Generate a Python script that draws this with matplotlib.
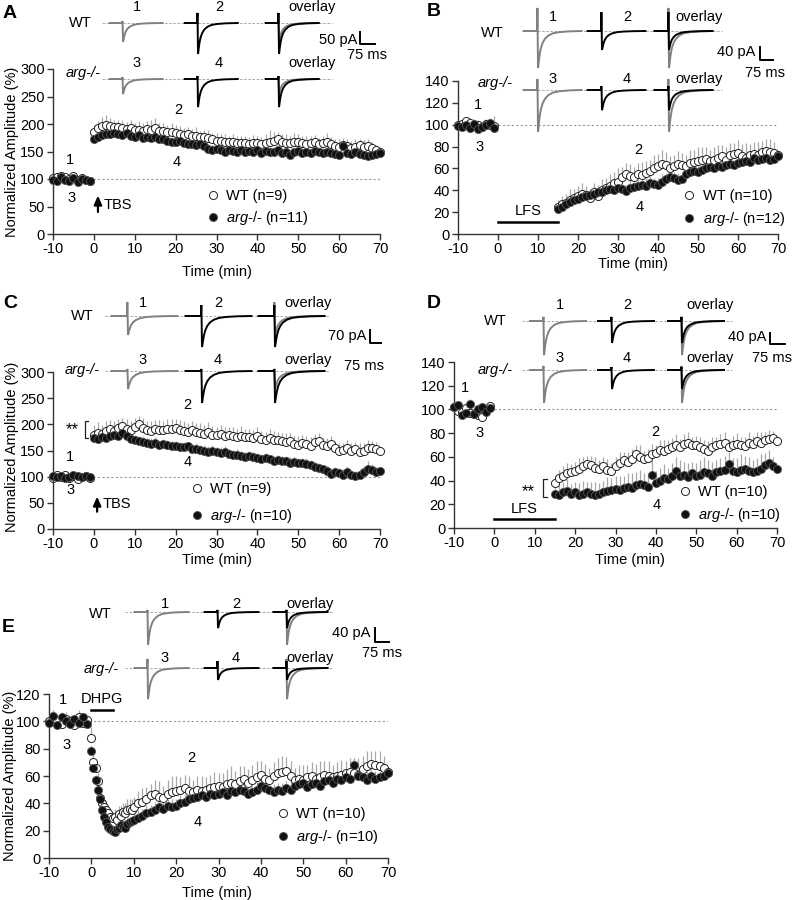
import numpy as np
import matplotlib
matplotlib.use('Agg')
import matplotlib.pyplot as plt

plt.rcParams['font.family'] = ['Liberation Sans', 'DejaVu Sans']
plt.rcParams['font.size'] = 10.5
plt.rcParams['axes.unicode_minus'] = False
plt.rcParams['mathtext.fontset'] = 'custom'
plt.rcParams['mathtext.it'] = 'Liberation Sans:italic'
plt.rcParams['mathtext.rm'] = 'Liberation Sans'

W, H = 797, 900

# ---------------- sampling times (min) ----------------
t_base = np.arange(-10, 0)
t_tbs = np.concatenate([t_base, np.arange(0, 71)])
t_lfs = np.concatenate([t_base, np.arange(15, 71)])
t_dhpg = np.concatenate([t_base, np.arange(0, 10, 0.5), np.arange(10, 71)])

# ---------------- panel A: TBS-LTP ----------------
a_wt = [101, 104, 106, 103, 100, 105, 98, 102, 99, 97,
        186, 192, 197, 199, 196, 194, 195, 192, 191, 193,
        189, 190, 188, 191, 190, 192, 188, 187, 186, 185,
        184, 182, 180, 181, 178, 179, 176, 177, 175, 172,
        170, 169, 168, 167, 168, 166, 165, 166, 164, 165,
        166, 163, 165, 167, 170, 172, 168, 166, 165, 167,
        168, 166, 164, 165, 167, 163, 165, 168, 163, 160,
        158, 162, 160, 157, 159, 161, 158, 160, 156, 152,
        149]
a_wt_sem = [4, 5, 4, 5, 4, 5, 4, 3, 4, 4,
            12, 14, 16, 18, 15, 14, 13, 15, 12, 14,
            13, 16, 14, 15, 17, 18, 14, 15, 13, 16,
            14, 15, 12, 14, 13, 15, 12, 13, 14, 12,
            13, 12, 14, 11, 13, 12, 14, 13, 12, 15,
            13, 14, 16, 22, 15, 14, 13, 15, 14, 16,
            13, 12, 15, 14, 13, 12, 14, 15, 13, 12,
            14, 13, 12, 13, 14, 12, 13, 12, 11, 10,
            9]
a_ko = [98, 96, 103, 99, 97, 101, 95, 100, 98, 96,
        172, 176, 180, 182, 181, 184, 182, 180, 183, 178,
        177, 180, 175, 176, 174, 177, 172, 173, 170, 168,
        167, 169, 165, 163, 164, 162, 163, 160, 155, 153,
        154, 152, 150, 153, 151, 150, 152, 149, 151, 150,
        152, 148, 151, 149, 150, 152, 148, 150, 144, 149,
        151, 147, 150, 148, 151, 149, 147, 150, 148, 146,
        143, 160, 148, 145, 149, 146, 143, 141, 144, 145,
        148]
a_ko_sem = [3, 4, 3, 4, 3, 4, 3, 4, 3, 3,
            8, 9, 10, 9, 10, 11, 9, 10, 9, 10,
            9, 10, 8, 9, 10, 9, 8, 9, 10, 9,
            8, 9, 10, 9, 8, 9, 10, 8, 9, 8,
            9, 8, 9, 10, 9, 8, 9, 8, 9, 10,
            9, 8, 9, 10, 9, 8, 9, 8, 9, 8,
            9, 10, 9, 8, 9, 8, 9, 10, 9, 8,
            9, 8, 9, 8, 9, 10, 9, 8, 9, 8,
            9]

# ---------------- panel B: LFS-LTD ----------------
b_wt = [100, 101, 103, 102, 99, 100, 98, 101, 100, 99,
        25, 27, 28, 31, 33, 35, 37, 36, 33, 38,
        35, 40, 42, 44, 47, 48, 52, 55, 53, 52,
        55, 54, 56, 58, 60, 62, 64, 63, 60, 62,
        64, 63, 62, 65, 66, 67, 68, 69, 67, 68,
        70, 71, 68, 72, 73, 74, 71, 70, 72, 73,
        72, 75, 76, 75, 74, 72]
b_wt_sem = [3, 4, 3, 4, 3, 4, 3, 4, 3, 9,
            6, 8, 9, 10, 8, 9, 10, 8, 7, 9,
            8, 10, 9, 11, 10, 12, 9, 10, 11, 9,
            10, 12, 11, 10, 12, 11, 13, 12, 11, 10,
            12, 11, 10, 12, 11, 13, 12, 11, 10, 12,
            11, 10, 12, 11, 10, 12, 11, 13, 10, 11,
            12, 10, 11, 12, 10, 9]
b_ko = [99, 98, 100, 97, 101, 96, 98, 100, 102, 97,
        23, 25, 27, 29, 31, 32, 34, 35, 36, 37,
        38, 38, 40, 41, 40, 42, 41, 39, 42, 43,
        44, 45, 44, 47, 46, 45, 48, 50, 52, 51,
        49, 50, 55, 57, 58, 57, 59, 60, 61, 60,
        62, 61, 63, 64, 63, 65, 66, 67, 66, 70,
        68, 69, 70, 68, 69, 71]
b_ko_sem = [3, 3, 4, 3, 4, 3, 4, 3, 4, 3,
            5, 6, 5, 6, 5, 6, 7, 6, 5, 6,
            7, 6, 5, 6, 7, 6, 5, 6, 7, 6,
            5, 6, 7, 6, 5, 6, 7, 6, 5, 6,
            7, 6, 5, 6, 7, 6, 5, 6, 7, 6,
            5, 6, 7, 6, 5, 6, 7, 6, 5, 6,
            7, 6, 5, 6, 7, 6]

# ---------------- panel C: TBS-LTP ----------------
c_wt = [98, 103, 100, 104, 97, 101, 96, 99, 102, 98,
        180, 184, 182, 188, 191, 187, 193, 196, 192, 190,
        195, 200, 193, 190, 188, 192, 189, 190, 192, 191,
        193, 190, 188, 186, 189, 185, 184, 182, 186, 180,
        179, 181, 178, 180, 177, 176, 178, 175, 176, 174,
        178, 172, 170, 173, 171, 170, 168, 166, 169, 162,
        160, 165, 162, 158, 166, 168, 160, 158, 162, 155,
        150, 151, 154, 149, 152, 148, 150, 154, 155, 152,
        150]
c_wt_sem = [4, 5, 4, 5, 4, 5, 4, 5, 4, 4,
            18, 20, 16, 19, 17, 20, 18, 16, 19, 17,
            18, 15, 19, 17, 18, 16, 19, 17, 18, 20,
            17, 18, 19, 16, 18, 17, 19, 16, 18, 17,
            16, 18, 17, 15, 17, 16, 18, 17, 15, 16,
            17, 15, 16, 18, 17, 15, 16, 17, 15, 16,
            17, 15, 16, 17, 15, 16, 14, 15, 16, 14,
            15, 14, 16, 15, 14, 16, 15, 17, 14, 15,
            14]
c_ko = [101, 99, 102, 98, 100, 103, 101, 99, 102, 100,
        174, 172, 176, 173, 178, 180, 177, 183, 178, 172,
        170, 168, 167, 165, 163, 164, 160, 162, 160, 158,
        159, 157, 156, 158, 152, 153, 151, 150, 148, 150,
        147, 146, 148, 144, 141, 142, 140, 138, 139, 137,
        136, 134, 135, 133, 130, 131, 130, 129, 127, 128,
        126, 126, 124, 122, 118, 116, 114, 110, 106, 108,
        107, 104, 109, 104, 101, 103, 108, 115, 113, 109,
        111]
c_ko_sem = [3, 4, 3, 4, 3, 4, 3, 4, 3, 3,
            9, 10, 11, 9, 10, 12, 10, 9, 11, 10,
            9, 10, 11, 9, 10, 11, 9, 10, 11, 10,
            9, 10, 11, 9, 10, 11, 9, 10, 11, 10,
            9, 10, 11, 9, 10, 11, 9, 10, 11, 10,
            9, 10, 11, 9, 10, 11, 9, 10, 11, 10,
            9, 10, 11, 9, 10, 11, 9, 10, 11, 10,
            9, 10, 11, 9, 10, 11, 12, 14, 11, 10,
            9]

# ---------------- panel D: LFS-LTD ----------------
d_wt = [102, 99, 98, 101, 97, 96, 95, 94, 100, 103,
        38, 42, 44, 46, 47, 48, 50, 52, 54, 53,
        51, 50, 52, 49, 48, 52, 55, 57, 56, 58,
        62, 60, 58, 59, 62, 63, 66, 65, 67, 68,
        70, 68, 71, 72, 70, 70, 68, 67, 65, 68,
        70, 71, 72, 68, 70, 71, 70, 69, 72, 71,
        73, 72, 74, 75, 76, 73]
d_wt_sem = [3, 4, 3, 4, 3, 4, 3, 4, 3, 3,
            6, 7, 8, 9, 7, 8, 9, 8, 7, 8,
            9, 7, 8, 9, 7, 8, 9, 7, 8, 9,
            8, 10, 7, 8, 9, 7, 8, 9, 7, 8,
            9, 7, 8, 9, 7, 8, 9, 7, 8, 9,
            7, 8, 9, 7, 8, 9, 7, 8, 9, 7,
            8, 9, 7, 8, 6, 5]
d_ko = [102, 104, 95, 97, 105, 96, 100, 102, 98, 101,
        29, 28, 30, 31, 29, 30, 28, 29, 30, 29,
        28, 29, 30, 31, 32, 33, 32, 34, 35, 34,
        36, 37, 36, 35, 45, 38, 40, 42, 41, 44,
        48, 44, 45, 43, 46, 44, 45, 47, 46, 44,
        47, 48, 49, 54, 48, 47, 49, 50, 48, 47,
        48, 50, 53, 55, 52, 50]
d_ko_sem = [3, 3, 4, 3, 4, 3, 4, 3, 4, 3,
            6, 8, 9, 10, 8, 9, 10, 11, 9, 10,
            11, 9, 10, 12, 10, 11, 12, 10, 11, 12,
            11, 12, 10, 11, 12, 10, 11, 12, 10, 11,
            12, 13, 11, 12, 10, 11, 12, 13, 11, 12,
            10, 11, 12, 10, 11, 12, 13, 11, 12, 10,
            11, 12, 10, 11, 8, 6]

# ---------------- panel E: DHPG-LTD ----------------
e_wt = [100, 103, 101, 98, 102, 100, 97, 103, 99, 101,
        88, 70, 66, 56, 44, 40, 37, 35, 33, 30,
        29, 30, 28, 32, 31, 34, 33, 35, 36, 35,
        37, 40, 41, 43, 46, 47, 45, 44, 47, 48,
        49, 50, 51, 49, 48, 50, 49, 50, 51, 52,
        53, 52, 54, 55, 54, 56, 58, 55, 57, 59,
        61, 58, 57, 60, 62, 63, 64, 60, 57, 58,
        57, 59, 60, 58, 59, 61, 60, 59, 60, 61,
        62, 63, 62, 61, 65, 67, 69, 68, 67, 66,
        63]
e_wt_sem = [4, 5, 4, 3, 5, 4, 3, 5, 4, 4,
            8, 7, 6, 6, 5, 5, 5, 6, 5, 6,
            5, 6, 5, 6, 7, 6, 7, 8, 7, 8,
            8, 9, 10, 9, 8, 10, 11, 9, 10, 12,
            11, 9, 10, 11, 9, 10, 11, 9, 10, 11,
            9, 10, 11, 12, 10, 11, 9, 10, 11, 12,
            10, 11, 9, 10, 11, 12, 10, 11, 9, 10,
            11, 9, 10, 11, 12, 10, 11, 9, 10, 11,
            9, 10, 11, 12, 10, 11, 9, 10, 11, 9,
            8]
e_ko = [99, 104, 97, 103, 100, 98, 102, 99, 103, 98,
        78, 66, 57, 50, 43, 35, 30, 26, 23, 21,
        20, 19, 21, 22, 24, 23, 22, 25, 26, 27,
        28, 29, 31, 33, 34, 35, 37, 36, 38, 37,
        38, 40, 41, 43, 44, 45, 46, 45, 47, 46,
        47, 48, 46, 49, 48, 50, 49, 47, 48, 50,
        53, 51, 50, 48, 50, 49, 51, 50, 53, 54,
        55, 52, 54, 55, 53, 56, 57, 55, 58, 57,
        59, 58, 68, 60, 59, 57, 60, 58, 59, 60,
        62]
e_ko_sem = [3, 4, 3, 4, 3, 4, 3, 4, 3, 4,
            5, 4, 4, 4, 3, 3, 3, 3, 3, 3,
            3, 3, 3, 3, 4, 4, 4, 4, 4, 4,
            5, 6, 5, 6, 5, 6, 5, 6, 5, 6,
            5, 6, 5, 6, 5, 6, 5, 6, 5, 6,
            5, 6, 5, 6, 5, 6, 5, 6, 5, 6,
            5, 6, 5, 6, 5, 6, 5, 6, 5, 6,
            5, 6, 5, 6, 5, 6, 5, 6, 5, 6,
            5, 6, 5, 6, 5, 6, 5, 6, 5, 6,
            5]

# ---------------- example EPSC traces (pA): WT1, WT2, arg3, arg4 ----------------
trace_amp = {'A': [79, 129, 63, 117], 'B': [114, 58, 129, 62], 'C': [102, 167, 97, 172],
             'D': [124, 80, 120, 69], 'E': [94, 46, 89, 34]}
trace_art = {'A': [8, 42, 8, 12], 'B': [71, 58, 34, 12], 'C': [75, 59, 11, 11],
             'D': [15, 15, 15, 11], 'E': [6, 6, 26, 20]}
scale_pa = {'A': 50, 'B': 40, 'C': 70, 'D': 40, 'E': 40}
n_wt = {'A': 9, 'B': 10, 'C': 9, 'D': 10, 'E': 10}
n_ko = {'A': 11, 'B': 12, 'C': 10, 'D': 10, 'E': 10}

# normalised waveform template (shape only)
tpl_x = [0.00, 0.235, 0.240, 0.245, 0.250, 0.255, 0.265, 0.28, 0.30, 0.33, 0.37, 0.43, 0.51, 0.62, 0.78, 1.00]
tpl_art = [0, 0, 1.0, 0.3, 0, 0, 0, 0, 0, 0, 0, 0, 0, 0, 0, 0]
tpl_epsc = [0, 0, 0, 0.35, 1.0, 0.95, 0.80, 0.62, 0.46, 0.32, 0.21, 0.12, 0.06, 0.03, 0.01, 0]

GREY = '#808080'
SPINE = '#333333'
MS = 5.8

fig = plt.figure(figsize=(W / 100, H / 100), dpi=100)


def px_rect(l, t, r, b):
    return [l / W, 1 - b / H, (r - l) / W, (b - t) / H]


def data_panel(rect, t, wt, wt_sem, ko, ko_sem, ymax, ystep):
    ax = fig.add_axes(px_rect(*rect))
    ax.set_facecolor('none')
    wt, wt_sem, ko, ko_sem = map(np.asarray, (wt, wt_sem, ko, ko_sem))
    ax.axhline(100, color='#999999', lw=0.8, ls=(0, (2, 2)), zorder=0)
    ax.vlines(t, ko, ko + ko_sem, color='#a8a8a8', lw=0.9, zorder=1)
    ax.vlines(t, wt, wt + wt_sem, color='#a8a8a8', lw=0.9, zorder=1)
    ax.plot(t, wt, 'o', ms=MS, mfc='white', mec='#222222', mew=0.7, ls='none', zorder=2, clip_on=False)
    ax.plot(t, ko, 'o', ms=MS, mfc='#111111', mec='#555555', mew=0.6, ls='none', zorder=3, clip_on=False)
    ax.set_xlim(-10, 70)
    ax.set_ylim(0, ymax)
    ax.set_xticks(range(-10, 71, 10))
    ax.set_yticks(range(0, ymax + 1, ystep))
    for s in ['top', 'right']:
        ax.spines[s].set_visible(False)
    for s in ['left', 'bottom']:
        ax.spines[s].set_color(SPINE)
        ax.spines[s].set_linewidth(1.0)
    ax.tick_params(direction='out', length=4, width=1, color=SPINE, pad=2, labelsize=10.5)
    return ax


def labels(ax, nums):
    for txt, (x, y) in nums.items():
        ax.text(x, y, txt, ha='center', va='center', fontsize=10.5)


def legend(ax, key, anchor, spacing):
    h1, = ax.plot([], [], 'o', ms=MS, mfc='white', mec='#222222', mew=0.7)
    h2, = ax.plot([], [], 'o', ms=MS, mfc='#111111', mec='#555555', mew=0.6)
    ax.legend([h1, h2], [f'WT (n={n_wt[key]})', r'$\mathit{arg}$' + f'-/- (n={n_ko[key]})'],
              loc='upper left', bbox_to_anchor=anchor, bbox_transform=ax.transData,
              frameon=False, borderpad=0, borderaxespad=0, handlelength=0.8,
              handletextpad=0.5, labelspacing=spacing, fontsize=10.5)


def bar(ax, x0, x1, y, txt, ty):
    ax.plot([x0, x1], [y, y], color='k', lw=1.8, clip_on=False)
    ax.text((x0 + x1) / 2, ty, txt, ha='center', va='center', fontsize=10.5)


def arrow(ax, x, y0, y1, ty):
    ax.annotate('', xy=(x, y1), xytext=(x, y0),
                arrowprops=dict(arrowstyle='-|>,head_width=0.22,head_length=0.5', color='k', lw=1.6,
                                shrinkA=0, shrinkB=0))
    ax.text(x + 1.3, ty, 'TBS', ha='left', va='center', fontsize=10.5)


def stars(ax, tx, ty, bx, b0, b1, tick):
    ax.text(tx, ty, '**', ha='center', va='center', fontsize=12)
    ax.plot([bx + tick, bx, bx, bx + tick], [b1, b1, b0, b0], color='#222222', lw=0.9, clip_on=False)


# ---------------- data panels ----------------
axA = data_panel((53, 69, 380, 234), t_tbs, a_wt, a_wt_sem, a_ko, a_ko_sem, 300, 50)
labels(axA, {'1': (-5.8, 135), '3': (-5.4, 65), '2': (20.6, 225), '4': (20.3, 131)})
arrow(axA, 1.0, 40, 70, 53)
legend(axA, 'A', (27.6, 82), 0.45)

axB = data_panel((458, 81, 778, 234), t_lfs, b_wt, b_wt_sem, b_ko, b_ko_sem, 140, 20)
labels(axB, {'1': (-5, 118), '3': (-4.7, 80), '2': (35, 77), '4': (35.5, 25)})
bar(axB, 0, 15, 11, 'LFS', 21)
legend(axB, 'B', (46.4, 41), 0.45)

axC = data_panel((53, 372, 380, 529), t_tbs, c_wt, c_wt_sem, c_ko, c_ko_sem, 300, 50)
labels(axC, {'1': (-5.8, 137), '3': (-5.6, 75), '2': (22.8, 237), '4': (23, 128)})
arrow(axC, 0.8, 33, 62, 47)
stars(axC, -5.4, 190, -2.2, 174, 206, 0.8)
legend(axC, 'C', (23.8, 90), 0.75)

axD = data_panel((454, 362, 777, 528), t_lfs, d_wt, d_wt_sem, d_ko, d_ko_sem, 140, 20)
labels(axD, {'1': (-7.3, 118), '3': (-3.6, 80), '2': (39.8, 81), '4': (40.2, 19)})
bar(axD, 0, 15, 7.6, 'LFS', 16)
stars(axD, 8.3, 31, 12.0, 26, 41, 1.0)
legend(axD, 'D', (45.8, 36), 0.45)

axE = data_panel((49, 694, 388, 858), t_dhpg, e_wt, e_wt_sem, e_ko, e_ko_sem, 120, 20)
labels(axE, {'1': (-6.7, 115.6), '3': (-5.8, 83), '2': (23.5, 73), '4': (25, 26)})
bar(axE, 0, 5, 108, 'DHPG', 116)
legend(axE, 'E', (43.9, 37), 0.45)

# ---------------- overlay in pixel space for traces & labels ----------------
ov = fig.add_axes([0, 0, 1, 1])
ov.set_xlim(0, W)
ov.set_ylim(H, 0)
ov.axis('off')

layout = {
    'A': dict(rows=(23, 79), dips=(123, 198, 279), w=53, nums_x=(137, 219, 312), nums_y=(7, 63),
              lab=((80, 23), (83, 73)), line=(102, 332), bar=(360, 32, 12, 15),
              pa=(357, 40), ms=(367, 55), letter=(10, 13), ylab=(12, 152), xlab=(217, 272)),
    'B': dict(rows=(31, 90), dips=(538, 602, 669), w=58, nums_x=(553, 627, 699), nums_y=(17, 79),
              lab=((492, 33), (495, 83)), line=(525, 722), bar=(760, 47, 13, 13),
              pa=(755, 52), ms=(765, 73), letter=(434, 12), ylab=None, xlab=(633, 264)),
    'C': dict(rows=(316, 371), dips=(128, 202, 275), w=66, nums_x=(143, 218, 308), nums_y=(303, 360),
              lab=((82, 316), (82, 370)), line=(105, 330), bar=(370, 330, 13, 11),
              pa=(366, 336), ms=(364, 366), letter=(10, 304), ylab=(12, 447), xlab=(217, 560)),
    'D': dict(rows=(321, 370), dips=(544, 612, 682), w=56, nums_x=(560, 627, 710), nums_y=(305, 358),
              lab=((495, 321), (495, 370)), line=(522, 732), bar=(770, 333, 11, 15),
              pa=(766, 337), ms=(772, 358), letter=(434, 304), ylab=None, xlab=(630, 560)),
    'E': dict(rows=(612, 668), dips=(148, 218, 287), w=54, nums_x=(165, 236, 310), nums_y=(604, 658),
              lab=((100, 614), (101, 669)), line=(125, 333), bar=(375, 628, 14, 14),
              pa=(370, 633), ms=(382, 653), letter=(8, 627), ylab=(10, 776), xlab=(217, 893)),
}


def trace(x_dip, y0, w, amp_px, art_px, color):
    xs = x_dip + (np.asarray(tpl_x) - 0.25) * w
    ys = y0 + np.asarray(tpl_epsc) * amp_px - np.asarray(tpl_art) * art_px
    ov.plot(xs, ys, color=color, lw=1.4, solid_joinstyle='miter')


for key, L in layout.items():
    k = L['bar'][2] / scale_pa[key]          # px per pA
    amps, arts = trace_amp[key], trace_art[key]
    nums = (('1', '2', 'overlay'), ('3', '4', 'overlay'))
    for r, y0 in enumerate(L['rows']):
        ov.plot(L['line'], [y0, y0], color='#9a9a9a', lw=0.6, ls=(0, (3, 2)))
        i_g, i_b = 2 * r, 2 * r + 1
        trace(L['dips'][0], y0, L['w'], amps[i_g] * k, arts[i_g] * k, GREY)
        trace(L['dips'][1], y0, L['w'], amps[i_b] * k, arts[i_b] * k, 'k')
        trace(L['dips'][2], y0, L['w'], amps[i_g] * k, arts[i_g] * k, GREY)
        trace(L['dips'][2], y0, L['w'], amps[i_b] * k, arts[i_b] * k, 'k')
        for txt, x in zip(nums[r], L['nums_x']):
            ov.text(x, L['nums_y'][r], txt, ha='center', va='center', fontsize=10.5)
    ov.text(*L['lab'][0], 'WT', ha='center', va='center', fontsize=10.5)
    ov.text(*L['lab'][1], 'arg-/-', ha='center', va='center', fontsize=10.5, style='italic')
    bx, by, bh, bw = L['bar']
    ov.plot([bx, bx, bx + bw], [by, by + bh, by + bh], color='k', lw=1.4)
    ov.text(*L['pa'], f'{scale_pa[key]} pA', ha='right', va='center', fontsize=10.5)
    ov.text(*L['ms'], '75 ms', ha='center', va='center', fontsize=10.5)
    ov.text(*L['letter'], key, ha='center', va='center', fontsize=14, fontweight='bold')
    if L['ylab']:
        ov.text(*L['ylab'], 'Normalized Amplitude (%)', ha='center', va='center',
                rotation=90, fontsize=10.5)
    ov.text(*L['xlab'], 'Time (min)', ha='center', va='center', fontsize=10.5)

fig.savefig('out.png', dpi=100)
